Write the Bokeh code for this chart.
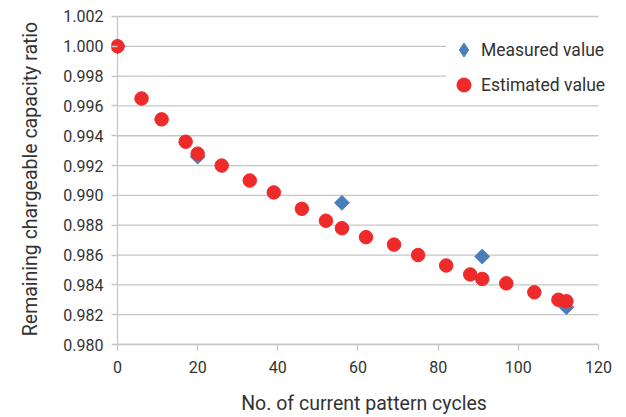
import math
from bokeh.plotting import figure
from bokeh.models import ColumnDataSource, FixedTicker, PrintfTickFormatter, Legend, LegendItem, Range1d
from bokeh.embed import file_html
from bokeh.resources import INLINE

# Data
measured_x = [0, 20, 56, 91, 112]
measured_y = [1.000, 0.9926, 0.9895, 0.9859, 0.9825]

estimated_x = [0, 6, 11, 17, 20, 26, 33, 39, 46, 52, 56, 62, 69, 75, 82, 88, 91, 97, 104, 110, 112]
estimated_y = [1.000, 0.9965, 0.9951, 0.9936, 0.9928, 0.9920, 0.9910, 0.9902, 0.9891, 0.9883, 0.9878,
               0.9872, 0.9867, 0.9860, 0.9853, 0.9847, 0.9844, 0.9841, 0.9835, 0.9830, 0.9829]

x_ticks = [0, 20, 40, 60, 80, 100, 120]
y_ticks = [0.980, 0.982, 0.984, 0.986, 0.988, 0.990, 0.992, 0.994, 0.996, 0.998, 1.000, 1.002]

FONT = "Roboto"
TXT = "#333333"
GRID = "#c6c6c6"
BLUE = "#4a7ebb"
RED = "#ee2a2a"

p = figure(width=626, height=417, output_backend="svg", toolbar_location=None,
           x_range=Range1d(-1.5, 124.5), y_range=Range1d(0.980, 1.0022),
           min_border_left=111, min_border_right=10, min_border_top=13, min_border_bottom=70)
p.outline_line_color = None
p.background_fill_color = "white"
p.border_fill_color = "white"

p.xgrid.grid_line_color = None
p.ygrid.grid_line_color = None

# horizontal gridlines spanning the tick range only
p.segment(x0=[x_ticks[0]] * len(y_ticks), x1=[x_ticks[-1]] * len(y_ticks), y0=y_ticks, y1=y_ticks,
          line_color=GRID, line_width=1.3)
# vertical axis line at x = 0
p.segment(x0=[x_ticks[0]], x1=[x_ticks[0]], y0=[y_ticks[0]], y1=[y_ticks[-1]],
          line_color=GRID, line_width=1.3)

p.xaxis.ticker = FixedTicker(ticks=x_ticks)
p.yaxis.ticker = FixedTicker(ticks=y_ticks)
p.yaxis.formatter = PrintfTickFormatter(format="%.3f")
p.xaxis.bounds = (x_ticks[0], x_ticks[-1])

for ax in (p.xaxis[0], p.yaxis[0]):
    ax.axis_line_color = GRID
    ax.axis_line_width = 1.3
    ax.major_tick_line_color = GRID
    ax.major_tick_line_width = 1.3
    ax.minor_tick_line_color = None
    ax.major_label_text_font = FONT
    ax.major_label_text_font_size = "16px"
    ax.major_label_text_color = TXT
    ax.axis_label_text_font = FONT
    ax.axis_label_text_font_size = "19.5px"
    ax.axis_label_text_font_style = "normal"
    ax.axis_label_text_color = TXT

p.xaxis.major_tick_in = 0
p.xaxis.major_tick_out = 6
p.yaxis.axis_line_color = None
p.yaxis.major_tick_in = 6
p.yaxis.major_tick_out = 0

p.yaxis.major_label_standoff = 8
p.xaxis.major_label_standoff = 10
p.xaxis.axis_label = "No. of current pattern cycles"
p.yaxis.axis_label = "Remaining chargeable capacity ratio"
p.xaxis.axis_label_standoff = 16
p.yaxis.axis_label_standoff = 18

src_m = ColumnDataSource(dict(x=measured_x, y=measured_y))
src_e = ColumnDataSource(dict(x=estimated_x, y=estimated_y))

r_m = p.scatter("x", "y", source=src_m, marker="square", angle=math.pi / 4, size=10.5,
                fill_color=BLUE, line_color=BLUE)
r_e = p.scatter("x", "y", source=src_e, marker="circle", size=13.5,
                fill_color=RED, line_color=RED)

# hidden proxy renderer that supplies the diamond swatch in the legend
r_m_leg = p.scatter("x", "y", source=src_m, marker="diamond", size=14,
                    fill_color=BLUE, line_color=BLUE, visible=False)

legend = Legend(items=[LegendItem(label="Measured value", renderers=[r_m_leg]),
                       LegendItem(label="Estimated value", renderers=[r_e])],
                location=(335, 242), orientation="vertical",
                glyph_width=35, glyph_height=35, spacing=0, padding=1, margin=0,
                label_standoff=-2, border_line_color=None, background_fill_color="white",
                background_fill_alpha=1.0,
                label_text_font=FONT, label_text_font_size="17.5px", label_text_color=TXT)
p.add_layout(legend, "center")

open("out.html", "w").write(file_html(p, INLINE))
